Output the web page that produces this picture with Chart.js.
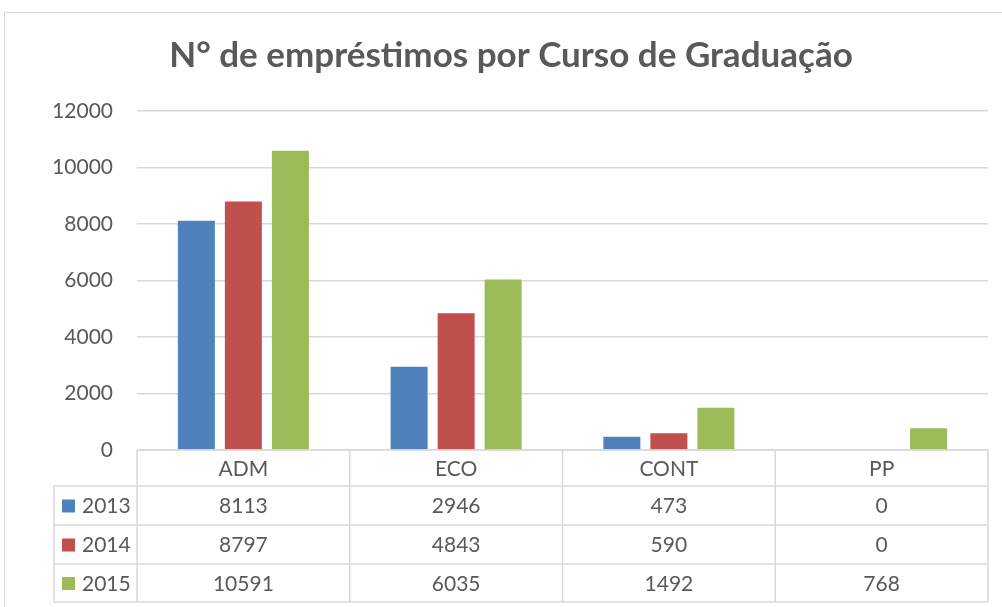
<!DOCTYPE html>
<html>
<head>
<meta charset="utf-8">
<script src="https://cdn.jsdelivr.net/npm/chart.js@4.4.0/dist/chart.umd.min.js"></script>
<style>
html,body{margin:0;padding:0;background:#fff;}
#wrap{position:relative;width:1002px;height:607px;}
#frame{position:absolute;left:4px;top:12px;width:1010px;height:600px;border:1px solid #d9d9d9;box-sizing:border-box;}
canvas{position:absolute;left:0;top:0;}
</style>
</head>
<body>
<div id="wrap"><div id="frame"></div><canvas id="c" width="1002" height="607"></canvas></div>
<script>
const categories = ['ADM', 'ECO', 'CONT', 'PP'];
const yearLabels = ['2013', '2014', '2015'];
const series2013 = [8113, 2946, 473, 0];
const series2014 = [8797, 4843, 590, 0];
const series2015 = [10591, 6035, 1492, 768];
const yTicks = [0, 2000, 4000, 6000, 8000, 10000, 12000];
const colors = ['#4F81BD', '#C0504D', '#9BBB59'];

const FONT = 'Lato, "Open Sans", sans-serif';
const TEXT = '#595959';
const LINE = '#d9d9d9';

const tablePlugin = {
  id: 'dataTable',
  afterDraw(chart) {
    const ctx = chart.ctx;
    const x = chart.scales.x;
    const area = chart.chartArea;
    const top = area.bottom;
    const rowH = [36, 39, 39, 38];
    const rows = [top];
    rowH.forEach(h => rows.push(rows[rows.length - 1] + h));
    const catW = (area.right - area.left) / categories.length;
    const legendLeft = 54;
    ctx.save();
    ctx.strokeStyle = LINE;
    ctx.lineWidth = 1.5;
    ctx.beginPath();
    ctx.moveTo(area.left, rows[0]); ctx.lineTo(area.right, rows[0]);
    for (let r = 1; r < rows.length; r++) {
      ctx.moveTo(legendLeft, rows[r]); ctx.lineTo(area.right, rows[r]);
    }
    for (let i = 0; i <= categories.length; i++) {
      const px = area.left + i * catW;
      ctx.moveTo(px, rows[0]); ctx.lineTo(px, rows[rows.length - 1]);
    }
    ctx.moveTo(legendLeft, rows[1]); ctx.lineTo(legendLeft, rows[rows.length - 1]);
    ctx.stroke();

    ctx.fillStyle = TEXT;
    ctx.font = '21px ' + FONT;
    ctx.textAlign = 'center';
    ctx.textBaseline = 'middle';
    categories.forEach((c, i) => {
      ctx.fillText(c, x.getPixelForValue(i), (rows[0] + rows[1]) / 2 + 1);
    });
    const all = [series2013, series2014, series2015];
    all.forEach((s, r) => {
      const cy = (rows[r + 1] + rows[r + 2]) / 2 + 1;
      s.forEach((v, i) => {
        ctx.fillStyle = TEXT;
        ctx.textAlign = 'center';
        ctx.fillText(String(v), x.getPixelForValue(i), cy);
      });
      ctx.fillStyle = colors[r];
      ctx.fillRect(62, cy - 7, 13, 13);
      ctx.fillStyle = TEXT;
      ctx.textAlign = 'left';
      ctx.fillText(yearLabels[r], 82, cy);
    });
    ctx.restore();
  }
};

new Chart(document.getElementById('c'), {
  type: 'bar',
  data: {
    labels: categories,
    datasets: [
      { label: yearLabels[0], data: series2013, backgroundColor: colors[0] },
      { label: yearLabels[1], data: series2014, backgroundColor: colors[1] },
      { label: yearLabels[2], data: series2015, backgroundColor: colors[2] }
    ]
  },
  options: {
    responsive: false,
    animation: false,
    devicePixelRatio: 1,
    categoryPercentage: 0.663,
    barPercentage: 0.787,
    layout: { padding: { left: 34, right: 14, top: 0, bottom: 157 } },
    plugins: {
      legend: { display: false },
      tooltip: { enabled: false },
      title: {
        display: true,
        text: 'N° de empréstimos por Curso de Graduação',
        color: TEXT,
        font: { family: FONT, size: 35, weight: 'bold', lineHeight: 1.2 },
        padding: { top: 35, bottom: 34 }
      }
    },
    scales: {
      x: { display: false },
      y: {
        min: 0, max: 12000,
        afterFit(scale) { scale.width = 103; },
        afterBuildTicks(scale) { scale.ticks = yTicks.map(v => ({ value: v })); },
        grid: { color: LINE, lineWidth: 1.5, drawTicks: false },
        border: { display: false },
        ticks: { color: TEXT, font: { family: FONT, size: 21 }, padding: 24, callback: v => String(v) }
      }
    }
  },
  plugins: [tablePlugin]
});
</script>
</body>
</html>
